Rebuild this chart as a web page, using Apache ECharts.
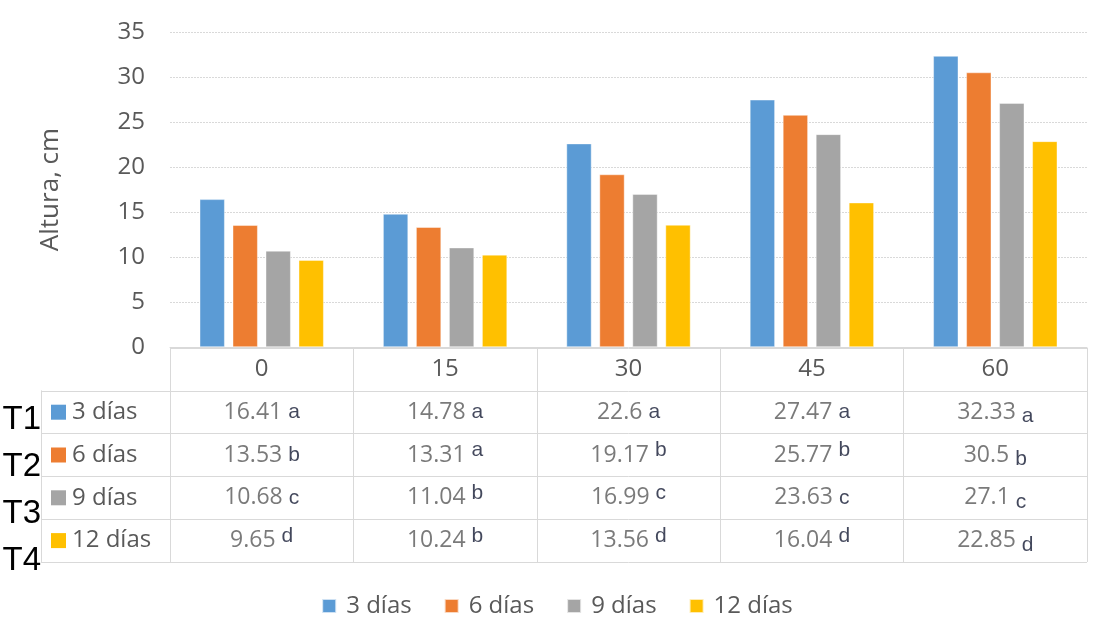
<!DOCTYPE html>
<html>
<head>
<meta charset="utf-8">
<script src="https://cdn.jsdelivr.net/npm/echarts@6/dist/echarts.min.js"></script>
<style>
  html, body { margin: 0; padding: 0; background: #fff; }
  #chart { width: 1114px; height: 639px; }
</style>
</head>
<body>
<div id="chart"></div>
<script>
// Plant height (cm) by sampling day, for four treatments
const days = ['0', '15', '30', '45', '60'];
const doses = ['3 días', '6 días', '9 días', '12 días'];
const treatments = ['T1', 'T2', 'T3', 'T4'];

const height3 = [16.41, 14.78, 22.6, 27.47, 32.33];
const height6 = [13.53, 13.31, 19.17, 25.77, 30.5];
const height9 = [10.68, 11.04, 16.99, 23.63, 27.1];
const height12 = [9.65, 10.24, 13.56, 16.04, 22.85];

// Significance letters per treatment and day
const letters3 = ['a', 'a', 'a', 'a', 'a'];
const letters6 = ['b', 'a', 'b', 'b', 'b'];
const letters9 = ['c', 'b', 'c', 'c', 'c'];
const letters12 = ['d', 'b', 'd', 'd', 'd'];

const yTicks = { min: 0, max: 35, interval: 5 };

// Typesetting of each letter next to its value (raised / on baseline / lowered)
const letterSet = [
  ['mid', 'mid', 'mid', 'mid', 'low'],
  ['mid', 'up', 'up', 'up', 'low'],
  ['mid', 'up', 'up', 'mid', 'low'],
  ['up', 'up', 'up', 'up', 'low']
];

const heights = [height3, height6, height9, height12];
const letters = [letters3, letters6, letters9, letters12];
const colors = ['#5B9BD5', '#ED7D31', '#A5A5A5', '#FFC000'];

const FONT = "'Open Sans', 'Noto Sans', sans-serif";
const GRAY = '#595959';
const LINE = '#d9d9d9';

const chart = echarts.init(document.getElementById('chart'));

const letterBase = { fontFamily: "'Liberation Sans', Arial, sans-serif", fontSize: 21, color: '#141a33', verticalAlign: 'middle' };

const barSeries = doses.map((name, s) => ({
  name: name,
  type: 'bar',
  xAxisIndex: 0,
  yAxisIndex: 0,
  barWidth: 25,
  barGap: '32%',
  itemStyle: { color: colors[s], borderColor: 'rgba(255,255,255,0.7)', borderWidth: 0.6 },
  emphasis: { disabled: true },
  data: heights[s]
}));

const tableSeries = doses.map((name, s) => ({
  name: 'tabla ' + name,
  type: 'scatter',
  xAxisIndex: 1,
  yAxisIndex: 1,
  symbolSize: 0,
  silent: true,
  emphasis: { disabled: true },
  data: heights[s].map((v, i) => ({ value: [i, s + 1], h: v, l: letters[s][i], p: letterSet[s][i] })),
  label: {
    show: true,
    position: 'inside',
    formatter: p => '{v|' + p.data.h + '}{' + p.data.p + '|' + p.data.l + '}',
    rich: {
      v: { fontFamily: FONT, fontSize: 23, color: GRAY, lineHeight: 34, verticalAlign: 'middle' },
      mid: Object.assign({}, letterBase, { padding: [0, 0, 0, 6] }),
      up: Object.assign({}, letterBase, { padding: [0, 0, 9, 6] }),
      low: Object.assign({}, letterBase, { padding: [9, 0, 0, 6] })
    }
  }
}));

const option = {
  backgroundColor: '#fff',
  animation: false,
  color: colors,
  legend: {
    data: doses,
    left: 'center',
    top: 589,
    icon: 'rect',
    itemWidth: 14,
    itemHeight: 14,
    itemGap: 32,
    textStyle: { fontFamily: FONT, fontSize: 24, color: GRAY, padding: [0, 0, 0, 5] }
  },
  grid: [
    // bars
    { left: 170, right: 27, top: 32, bottom: 292, containLabel: false },
    // data table (header row + four rows)
    { left: 170, right: 27, top: 348, bottom: 77, containLabel: false },
    // row names of the table
    { left: 41, width: 129, top: 390.8, bottom: 77, containLabel: false },
    // treatment codes
    { left: 0, width: 41, top: 396, height: 188, containLabel: false }
  ],
  xAxis: [
    {
      gridIndex: 0, type: 'category', data: days,
      axisLine: { show: true, lineStyle: { color: LINE } },
      axisTick: { show: false },
      axisLabel: { margin: 10, fontFamily: FONT, fontSize: 24, color: GRAY }
    },
    {
      gridIndex: 1, type: 'category', data: days,
      axisLine: { show: false }, axisTick: { show: false }, axisLabel: { show: false },
      splitLine: { show: true, lineStyle: { color: LINE, width: 1 } }
    },
    { gridIndex: 2, type: 'value', show: false },
    { gridIndex: 3, type: 'value', show: false }
  ],
  yAxis: [
    {
      gridIndex: 0, type: 'value', min: yTicks.min, max: yTicks.max, interval: yTicks.interval,
      name: 'Altura, cm', nameLocation: 'middle', nameGap: 106,
      nameTextStyle: { fontFamily: FONT, fontSize: 26, color: GRAY },
      axisLine: { show: false }, axisTick: { show: false },
      axisLabel: { margin: 25, fontFamily: FONT, fontSize: 24, color: GRAY },
      splitLine: { show: true, lineStyle: { color: LINE, type: [2, 1] } }
    },
    {
      gridIndex: 1, type: 'category', inverse: true, data: [''].concat(doses),
      axisLine: { show: false }, axisTick: { show: false }, axisLabel: { show: false },
      splitLine: { show: true, lineStyle: { color: LINE, width: 1 } }
    },
    {
      gridIndex: 2, type: 'category', inverse: true, data: doses,
      axisLine: { show: true, lineStyle: { color: LINE } },
      axisTick: { show: false },
      splitLine: { show: true, lineStyle: { color: LINE, width: 1 } },
      axisLabel: {
        inside: true, margin: 10,
        formatter: (v, i) => '{s' + i + '|}{t|' + v + '}',
        rich: Object.assign({
          t: { fontFamily: FONT, fontSize: 24, color: GRAY, padding: [0, 0, 0, 6] }
        }, Object.fromEntries(colors.map((c, i) => ['s' + i, { width: 15, height: 15, backgroundColor: c }])))
      }
    },
    {
      gridIndex: 3, type: 'category', inverse: true, data: treatments,
      axisLine: { show: false }, axisTick: { show: false },
      position: 'right',
      axisLabel: {
        inside: true, margin: 0,
        fontFamily: "'Liberation Sans Narrow', 'Arial Narrow', 'Liberation Sans', sans-serif",
        fontSize: 33, color: '#000'
      }
    }
  ],
  series: barSeries.concat(tableSeries)
};

chart.setOption(option);
</script>
</body>
</html>
